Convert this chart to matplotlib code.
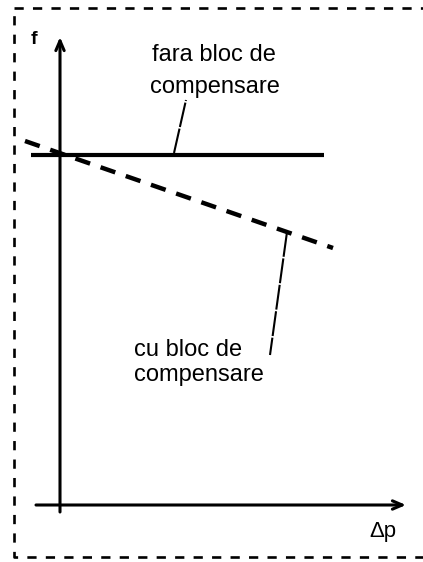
import matplotlib.pyplot as plt

plt.rcParams['font.family'] = ['Liberation Sans', 'DejaVu Sans']

# schematic coordinates: origin at the crossing of the axes, units ~ pixels
dp_solid = [-29, 264]
f_solid = [350, 350]
dp_comp = [-35, 273]
f_comp = [364, 257]

# leader lines: (point on curve) -> (near the label)
lead_fara = ([114, 126], [352, 405])
lead_cu = ([227, 210], [273, 150])

# frame of the drawing (dashed box)
box_x = [-46, 372, 372, -46, -46]
box_y = [497, 497, -52, -52, 497]

fig = plt.figure(figsize=(4.23, 5.62), dpi=100)
ax = fig.add_axes([0, 0, 1, 1])
ax.set_xlim(-60, 363)
ax.set_ylim(-57, 505)
ax.axis('off')

ax.plot(box_x, box_y, color='black', lw=1.9, ls=(0, (3.5, 3.5)), clip_on=False)

# axes with arrows
arrow = dict(arrowstyle='->,head_length=0.7,head_width=0.3',
             color='black', lw=2.2, shrinkA=0, shrinkB=0)
ax.annotate('', xy=(0, 468), xytext=(0, -7), arrowprops=arrow)
ax.annotate('', xy=(346, 0), xytext=(-24, 0), arrowprops=arrow)

ax.plot(dp_solid, f_solid, color='black', lw=3.0, solid_capstyle='butt')
ax.plot(dp_comp, f_comp, color='black', lw=3.2, ls=(0, (3.5, 2.5)))

ax.plot(*lead_fara, color='black', lw=1.5, ls=(0, (12, 0.8)))
ax.plot(*lead_cu, color='black', lw=1.5, ls=(0, (12, 0.8)))

ax.text(92, 450, 'fara bloc de', fontsize=17, va='center', ha='left')
ax.text(90, 418, 'compensare', fontsize=17, va='center', ha='left')
ax.text(74, 155, 'cu bloc de', fontsize=17, va='center', ha='left')
ax.text(74, 130, 'compensare', fontsize=17, va='center', ha='left')

ax.text(-26, 466, 'f', fontsize=14, va='center', ha='center', fontweight='bold')
ax.text(323, -27, '\u0394p', fontsize=16, va='center', ha='center')

fig.savefig('out.png', dpi=100)
